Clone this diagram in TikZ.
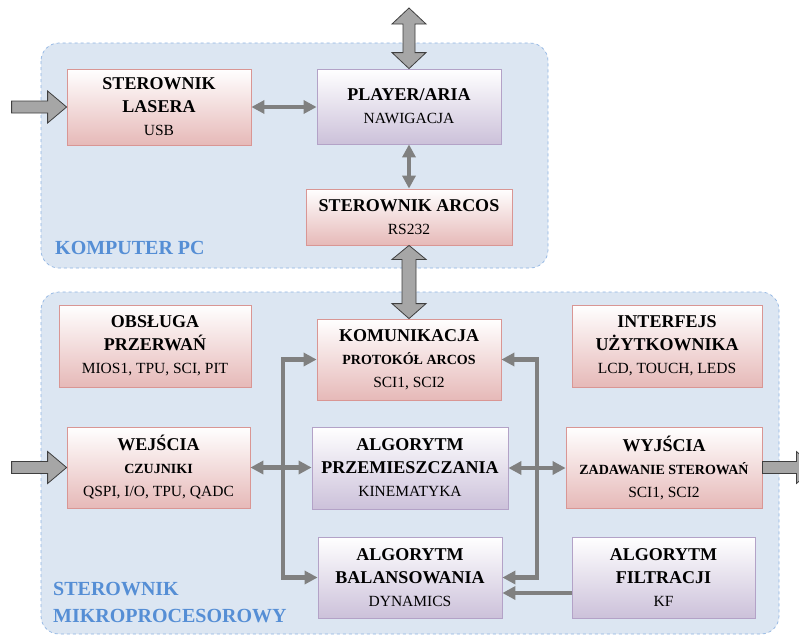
\documentclass[tikz,border=0pt]{standalone}
\usepackage{fontspec}
\setmainfont{Liberation Serif}
\usetikzlibrary{arrows.meta,calc}

\definecolor{panelfill}{HTML}{DCE6F2}
\definecolor{paneledge}{HTML}{8EB4E3}
\definecolor{labelblue}{HTML}{558ED5}
\definecolor{pinkbot}{HTML}{E6B9B8}
\definecolor{pinkedge}{HTML}{D99694}
\definecolor{lilacbot}{HTML}{CCC1DA}
\definecolor{lilacedge}{HTML}{B3A2C7}
\definecolor{linkgray}{HTML}{808080}
\definecolor{blockfill}{HTML}{A6A6A6}
\definecolor{blockedge}{HTML}{3F3F3F}

% sub-lines inside the boxes
\newcommand\subreg[1]{{\fontsize{15.5}{23}\selectfont\mdseries #1}}
\newcommand\subbold[1]{{\fontsize{14}{23}\selectfont\bfseries #1}}

\tikzset{
  panel/.style={fill=panelfill, draw=paneledge, dashed, line width=0.7pt, rounded corners=18pt},
  panellabel/.style={text=labelblue, font=\fontsize{20}{24}\selectfont\bfseries, inner sep=0pt},
  blockbase/.style={draw, line width=0.8pt, inner sep=0pt, align=center,
    font=\fontsize{18}{23}\selectfont\bfseries, text=black},
  pinkbox/.style={blockbase, draw=pinkedge, top color=white, bottom color=pinkbot},
  lilacbox/.style={blockbase, draw=lilacedge, top color=white, bottom color=lilacbot},
  conn/.style={draw=linkgray, line width=4.5pt},
  >={Triangle[length=13pt,width=13pt]},
  blockarrow/.style={fill=blockfill, draw=blockedge, line width=0.8pt, line join=miter},
}

\begin{document}
\begin{tikzpicture}[x=1pt, y=-1pt]
\useasboundingbox (0,0) rectangle (799,635);
\clip (0,0) rectangle (799,635);
\fill[white] (0,0) rectangle (799,635);

% the two enclosing panels
\draw[panel] (41,43) rectangle (548,268);
\draw[panel] (41,292) rectangle (779,634);
\node[panellabel, anchor=base west] (pclab) at (55,254) {KOMPUTER PC};
\node[panellabel, anchor=base west] (mclab1) at (53,595) {STEROWNIK};
\node[panellabel, anchor=base west] (mclab2) at (53,622) {MIKROPROCESOROWY};

% blocks of the PC
\node[pinkbox, minimum width=184pt, minimum height=76pt] (las) at (159,107)
  {STEROWNIK\\LASERA\\\subreg{USB}};
\node[lilacbox, minimum width=184pt, minimum height=75pt] (pla) at (409,106.5)
  {PLAYER/ARIA\\\subreg{NAWIGACJA}};
\node[pinkbox, minimum width=206pt, minimum height=56pt] (arc) at (409,217)
  {STEROWNIK ARCOS\\\subreg{RS232}};

% blocks of the microcontroller
\node[pinkbox, minimum width=192pt, minimum height=82pt] (obs) at (155,346)
  {OBSŁUGA\\PRZERWAŃ\\\subreg{MIOS1, TPU, SCI, PIT}};
\node[pinkbox, minimum width=190pt, minimum height=82pt] (int) at (667,346)
  {INTERFEJS\\UŻYTKOWNIKA\\\subreg{LCD, TOUCH, LEDS}};
\node[pinkbox, minimum width=184pt, minimum height=81pt] (kom) at (409,359.5)
  {KOMUNIKACJA\\\subbold{PROTOKÓŁ ARCOS}\\\subreg{SCI1, SCI2}};
\node[pinkbox, minimum width=183pt, minimum height=81pt] (wej) at (158.5,467.5)
  {WEJŚCIA\\\subbold{CZUJNIKI}\\\subreg{QSPI, I/O, TPU, QADC}};
\node[lilacbox, minimum width=196pt, minimum height=82pt] (prz) at (410,468)
  {ALGORYTM\\PRZEMIESZCZANIA\\\subreg{KINEMATYKA}};
\node[pinkbox, minimum width=196pt, minimum height=81pt] (wyj) at (664,467.5)
  {WYJŚCIA\\\subbold{ZADAWANIE STEROWAŃ}\\\subreg{SCI1, SCI2}};
\node[lilacbox, minimum width=184pt, minimum height=81pt] (bal) at (410,577.5)
  {ALGORYTM\\BALANSOWANIA\\\subreg{DYNAMICS}};
\node[lilacbox, minimum width=183pt, minimum height=81pt] (fil) at (663.5,577.5)
  {ALGORYTM\\FILTRACJI\\\subreg{KF}};

% free ends of the block arrows
\coordinate (topend) at (409,8);
\coordinate (inA) at ([xshift=-55pt]las.west);
\coordinate (inB) at ([xshift=-55pt]wej.west);
\coordinate (outC) at ([xshift=53pt]wyj.east);

% double block arrow above PLAYER/ARIA
\draw[blockarrow] (topend) -- ++(17,16) -- ++(-11,0) -- ($(pla.north)+(6,-16)$)
  -- ++(11,0) -- (pla.north) -- ++(-17,-16) -- ++(11,0)
  -- ($(topend)+(-6,16)$) -- ++(-11,0) -- cycle;
% double block arrow STEROWNIK ARCOS -- KOMUNIKACJA
\draw[blockarrow] (arc.south) -- ++(17,14) -- ++(-10,0) -- ($(kom.north)+(7,-15)$)
  -- ++(10,0) -- (kom.north) -- ++(-17,-15) -- ++(10,0)
  -- ($(arc.south)+(-7,14)$) -- ++(-10,0) -- cycle;
% input block arrows
\draw[blockarrow] (inA) -- ++(0,-6) -- ($(las.west)+(-19,-6)$) -- ++(0,-10)
  -- (las.west) -- ++(-19,16) -- ++(0,-10) -- ($(inA)+(0,6)$) -- cycle;
\draw[blockarrow] (inB) -- ++(0,-6) -- ($(wej.west)+(-19,-6)$) -- ++(0,-10)
  -- (wej.west) -- ++(-19,16) -- ++(0,-10) -- ($(inB)+(0,6)$) -- cycle;
% output block arrow
\draw[blockarrow] (wyj.east) -- ++(0,-6) -- ($(outC)+(-19,-6)$) -- ++(0,-10)
  -- (outC) -- ++(-19,16) -- ++(0,-10) -- ($(wyj.east)+(0,6)$) -- cycle;

% grey connectors
\draw[conn,<->] (las.east) -- (las.east -| pla.west);
\draw[conn,<->] (pla.south) -- (arc.north);
\draw[conn,<->] (wej.east) -- (wej.east -| prz.west);
\draw[conn,<->] (prz.east) -- (prz.east -| wyj.west);
\coordinate (lhub) at (283,468);
\coordinate (rhub) at (537,468);
\draw[conn,->] (lhub) |- (kom.west);
\draw[conn,->] (lhub) |- (bal.west);
\draw[conn,->] (rhub) |- (kom.east);
\draw[conn,->] (rhub) |- (bal.east);
\draw[conn,->] ([yshift=-15.5pt]fil.west) -- ([yshift=-15.5pt]fil.west -| bal.east);
\end{tikzpicture}
\end{document}
